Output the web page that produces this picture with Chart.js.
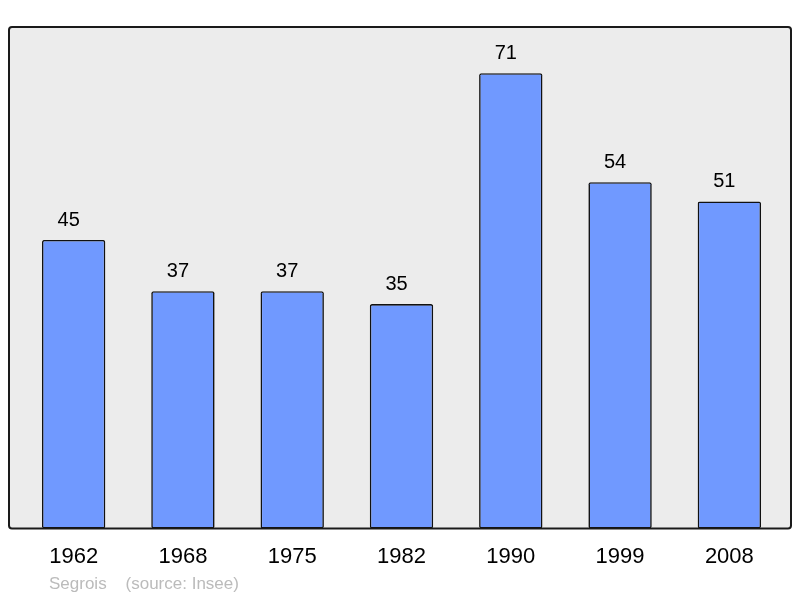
<!DOCTYPE html>
<html>
<head>
<meta charset="utf-8">
<script src="https://cdn.jsdelivr.net/npm/chart.js@4/dist/chart.umd.min.js"></script>
<style>
  html, body { margin: 0; padding: 0; background: #ffffff; }
  #wrap { width: 800px; height: 598px; position: relative; }
</style>
</head>
<body>
<div id="wrap"><canvas id="chart" width="800" height="598"></canvas></div>
<script>
const years = ['1962', '1968', '1975', '1982', '1990', '1999', '2008'];
const population = [45, 37, 37, 35, 71, 54, 51];
const footerText = 'Segrois    (source: Insee)';

// frame + grey background behind the bars, value labels, footer
const framePlugin = {
    id: 'frame',
    beforeDraw: (chart) => {
        const {ctx, chartArea} = chart;
        const x0 = chartArea.left - 10, x1 = chartArea.right + 7;
        const y0 = chartArea.top, y1 = chartArea.bottom;
        ctx.save();
        ctx.beginPath();
        ctx.roundRect(x0, y0, x1 - x0, y1 - y0, 3);
        ctx.fillStyle = '#ececec';
        ctx.fill();
        ctx.restore();
    },
    afterDatasetsDraw: (chart) => {
        const {ctx, chartArea} = chart;
        const x0 = chartArea.left - 10, x1 = chartArea.right + 7;
        const y0 = chartArea.top, y1 = chartArea.bottom;
        ctx.save();
        ctx.beginPath();
        ctx.roundRect(x0, y0, x1 - x0, y1 - y0, 3);
        ctx.lineWidth = 2;
        ctx.strokeStyle = '#1a1a1a';
        ctx.stroke();

        // value labels (sit a little left of the bar centre, as in the original)
        const meta = chart.getDatasetMeta(0);
        ctx.fillStyle = '#000';
        ctx.font = '20px "Liberation Sans", Arial, sans-serif';
        ctx.textAlign = 'center';
        ctx.textBaseline = 'alphabetic';
        meta.data.forEach((bar, i) => {
            ctx.fillText(population[i], bar.x - 5, bar.y - 14);
        });

        // footer
        ctx.fillStyle = '#bbbbbb';
        ctx.font = '17px "Liberation Sans", Arial, sans-serif';
        ctx.textAlign = 'left';
        ctx.fillText(footerText, 49, 589);
        ctx.restore();
    }
};

const ctx = document.getElementById('chart');

new Chart(ctx, {
    type: 'bar',
    data: {
        labels: years,
        datasets: [{
            data: population,
            backgroundColor: '#7099ff',
            borderColor: '#111',
            borderWidth: 1.6,
            borderRadius: 2,
            borderSkipped: false,
            barPercentage: 0.58,
            categoryPercentage: 1
        }]
    },
    options: {
        responsive: false,
        maintainAspectRatio: false,
        animation: false,
        devicePixelRatio: 1,
        layout: { padding: { left: 19, right: 16, top: 27, bottom: 13 } },
        plugins: { legend: { display: false }, tooltip: { enabled: false } },
        scales: {
            x: {
                grid: { display: false, drawTicks: false },
                border: { display: false },
                ticks: {
                    color: '#000',
                    padding: 15,
                    autoSkip: false,
                    maxRotation: 0,
                    font: { family: '"Liberation Sans", Arial, sans-serif', size: 22 }
                }
            },
            y: {
                display: false,
                min: 0,
                max: 78.2
            }
        }
    },
    plugins: [framePlugin]
});
</script>
</body>
</html>
